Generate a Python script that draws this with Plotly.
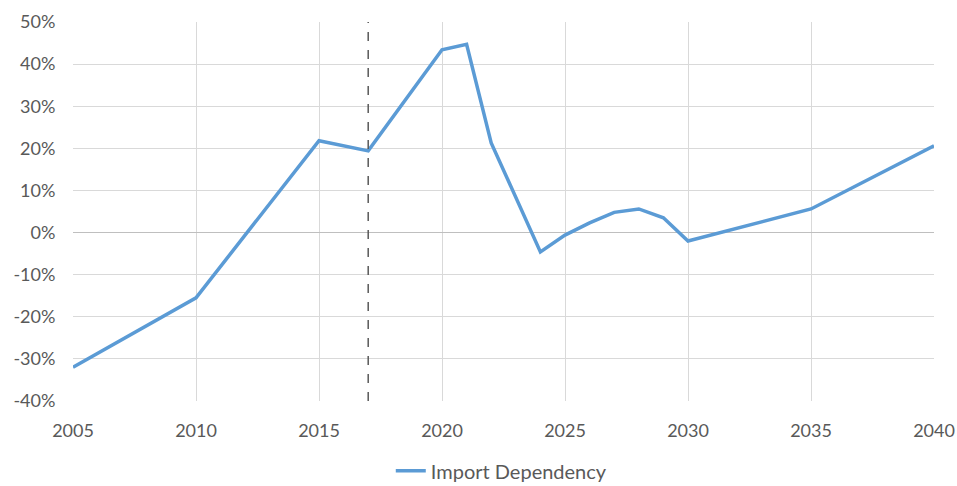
import plotly.graph_objects as go

years = [2005, 2010, 2015, 2017, 2020, 2021, 2022, 2023, 2024, 2025, 2026, 2027, 2028, 2029, 2030, 2035, 2040]
import_dependency = [-32.0, -15.5, 21.8, 19.4, 43.4, 44.7, 21.3, 8.5, -4.6, -0.6, 2.3, 4.8, 5.6, 3.5, -2.0, 5.6, 20.6]
series_name = "Import Dependency"
projection_start_year = 2017
x_ticks = [2005, 2010, 2015, 2020, 2025, 2030, 2035, 2040]
y_ticks = [-40, -30, -20, -10, 0, 10, 20, 30, 40, 50]
y_tick_labels = [f"{v}%" for v in y_ticks]

FONT = "Lato"
TXT = "#595959"
FS = 18

fig = go.Figure()
fig.add_trace(go.Scatter(
    x=years, y=import_dependency, mode="lines", name=series_name,
    line=dict(color="#5B9BD5", width=3.5),
))
fig.add_shape(type="line", x0=projection_start_year, x1=projection_start_year,
              xref="x", yref="paper", y0=0, y1=1,
              line=dict(color="#595959", width=1.5, dash="dash"))

fig.update_layout(
    width=957, height=486,
    margin=dict(l=73, r=23, t=22, b=85, autoexpand=False),
    paper_bgcolor="white", plot_bgcolor="white",
    font=dict(family=FONT, size=FS, color=TXT),
    showlegend=True,
    legend=dict(orientation="h", x=0.498, xanchor="center", y=-0.184, yanchor="middle",
                font=dict(family=FONT, size=20, color=TXT)),
)
fig.update_xaxes(range=[2005, 2040], tickvals=x_ticks, showgrid=True, gridcolor="#D9D9D9",
                 gridwidth=1, zeroline=False, showline=False, automargin=False,
                 ticks="outside", ticklen=13, tickcolor="rgba(0,0,0,0)",
                 tickfont=dict(family=FONT, size=FS, color=TXT))
fig.update_yaxes(range=[-40, 50], tickvals=y_ticks, ticktext=y_tick_labels, showgrid=True,
                 gridcolor="#D9D9D9", gridwidth=1, zeroline=True, zerolinecolor="#BFBFBF",
                 zerolinewidth=1, showline=False, automargin=False,
                 ticks="outside", ticklen=13, tickcolor="rgba(0,0,0,0)",
                 tickfont=dict(family=FONT, size=FS, color=TXT))

fig.write_html("out.html", config={"displayModeBar": False},
               post_script="document.body.style.margin='0';document.body.style.overflow='hidden';")
